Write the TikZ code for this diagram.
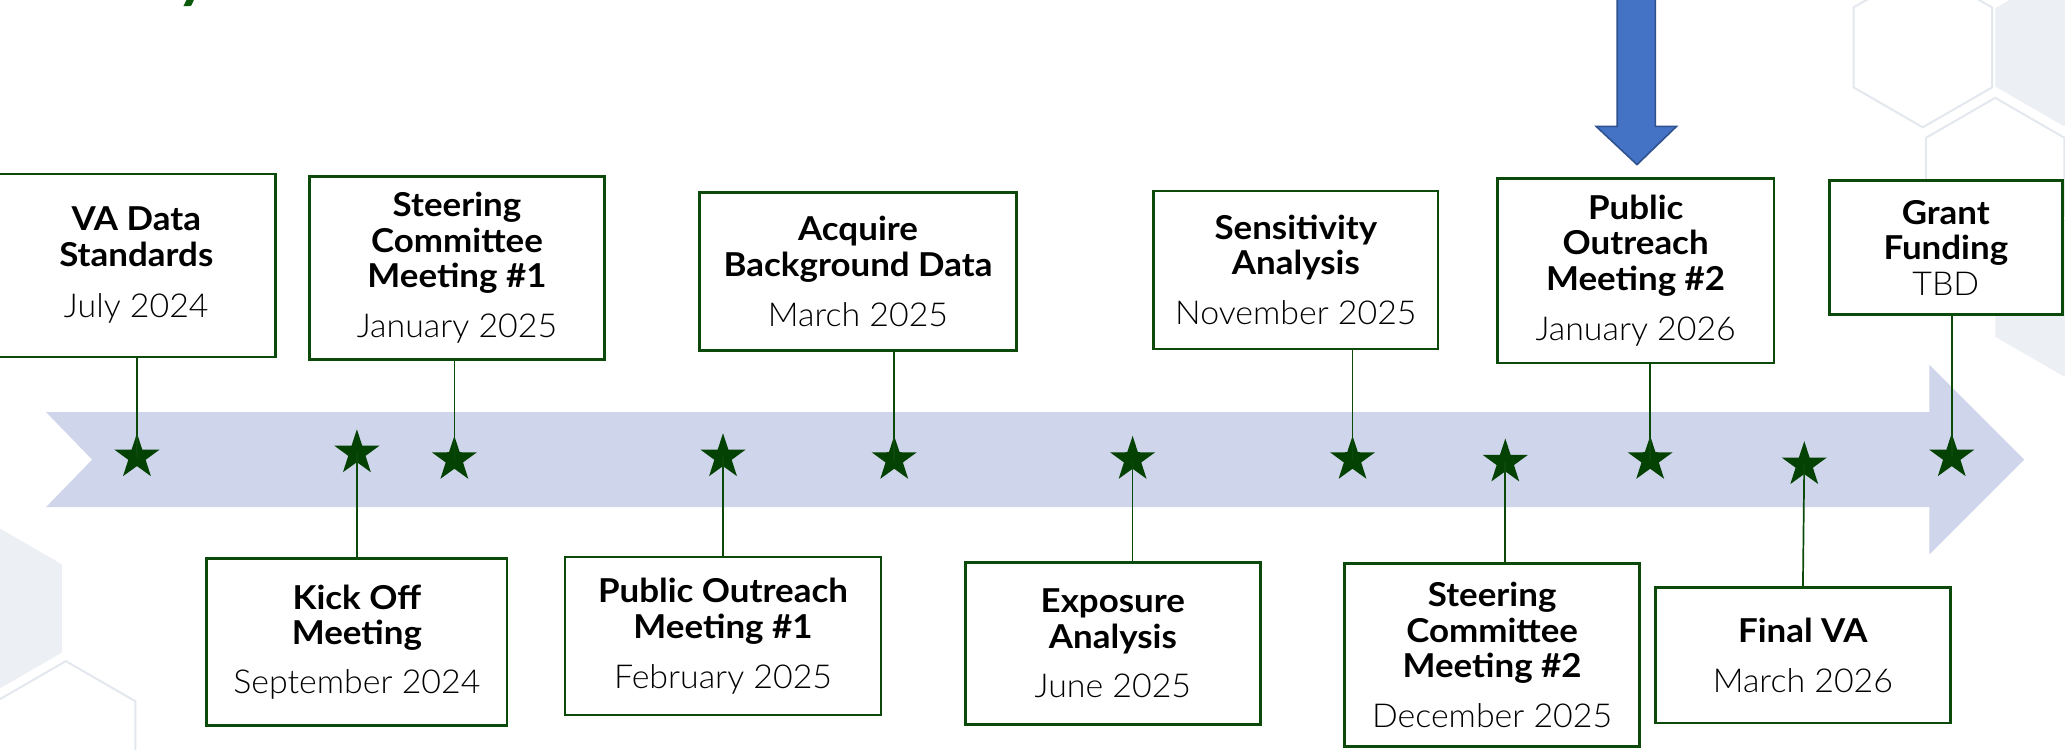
\documentclass[tikz,border=0pt]{standalone}
\usepackage{fontspec}
\setmainfont{Lato}[FakeStretch=1.06]
\newfontfamily\lt{Lato Light}[FakeStretch=1.03]
\usetikzlibrary{shapes.geometric}
\definecolor{tlgreen}{HTML}{0B4A0B}
\definecolor{stargreen}{HTML}{034203}
\definecolor{titlegreen}{HTML}{0A5A0A}
\definecolor{tlband}{HTML}{CFD5EA}
\definecolor{hexgrey}{HTML}{E3E7EE}
\definecolor{hexfillc}{HTML}{ECEFF4}
\definecolor{arrowblue}{HTML}{4472C4}
\definecolor{arrowedge}{HTML}{2F528F}
\newcommand\hexpath[3]{(#1,#2) +(90:#3) -- +(30:#3) -- +(-30:#3) -- +(-90:#3) -- +(-150:#3) -- +(150:#3) -- cycle}
\newcommand\B[1]{\textbf{#1}}
\newcommand\D[1]{{\lt #1}}
\begin{document}
\begin{tikzpicture}[x=1pt,y=-1pt,
  box/.style={draw=tlgreen, line width=2pt, fill=white, align=center, inner sep=0pt,
    font=\fontsize{25}{27}\selectfont},
  starnode/.style={star, star points=5, star point ratio=2.6, fill=stargreen, draw=none,
    minimum size=36pt, inner sep=0pt},
  conn/.style={draw=tlgreen, line width=1.3pt},
  hexline/.style={draw=hexgrey, line width=1.5pt, fill=white},
  hexfill/.style={fill=hexfillc, draw=white, line width=1.5pt}]

\clip (0,0) rectangle (1568,569);
\fill[white] (0,0) rectangle (1568,569);

% background hexagons
\path[hexfill] \hexpath{1567}{36}{60.7};
\path[hexline] \hexpath{1460}{36}{60.7};
\path[hexline] \hexpath{1515}{135}{60.7};
\path[hexfill] \hexpath{1567}{226}{60.7};
\path[hexfill] \hexpath{-11}{462}{68};
\path[hexline] \hexpath{50}{563}{61};

% title fragment
\node[font=\fontsize{46}{46}\selectfont\bfseries, text=titlegreen, anchor=base, inner sep=0pt] (ttl) at (147,-3) {y};

% timeline band
\fill[tlband] (35,313) -- (1465,313) -- (1465,277) -- (1537,349) -- (1465,421) -- (1465,385) -- (35,385) -- (70,349) -- cycle;

% blue arrow
\filldraw[fill=arrowblue, draw=arrowedge, line width=1.2pt]
  (1228,-3) -- (1228,96) -- (1212,96) -- (1243,125) -- (1273,96) -- (1257,96) -- (1257,-3) -- cycle;

% stars
\node[starnode] (s1) at (104,347) {};
\node[starnode] (s2) at (271,344) {};
\node[starnode] (s3) at (345,349) {};
\node[starnode] (s4) at (549,347) {};
\node[starnode] (s5) at (679,349) {};
\node[starnode] (s6) at (860,349) {};
\node[starnode] (s7) at (1027,349) {};
\node[starnode] (s8) at (1143,351) {};
\node[starnode] (s9) at (1253,349) {};
\node[starnode] (s10) at (1370,353) {};
\node[starnode] (s11) at (1482,347) {};

% top boxes
\node[box, minimum width=211pt, minimum height=139pt] (A) at (103.5,201.5)
  {\B{VA Data}\\\B{Standards}\\[12pt]\D{July 2024}};
\node[box, minimum width=224pt, minimum height=139pt] (B) at (347,203.5)
  {\B{Steering}\\\B{Committee}\\\B{Meeting \#1}\\[11pt]\D{January 2025}};
\node[box, minimum width=241pt, minimum height=120pt] (C) at (651.5,206)
  {\B{Acquire}\\\B{Background Data}\\[11pt]\D{March 2025}};
\node[box, minimum width=216pt, minimum height=120pt] (D) at (984,205)
  {\B{Sensitivity}\\\B{Analysis}\\[11pt]\D{November 2025}};
\node[box, minimum width=210pt, minimum height=140pt] (E) at (1242,205.5)
  {\B{Public}\\\B{Outreach}\\\B{Meeting \#2}\\[11pt]\D{January 2026}};
\node[box, minimum width=177pt, minimum height=102pt] (F) at (1477.5,188)
  {\B{Grant}\\\B{Funding}\\\D{TBD}};

% bottom boxes
\node[box, minimum width=228pt, minimum height=127pt] (G) at (271,487.5)
  {\B{Kick Off}\\\B{Meeting}\\[10pt]\D{September 2024}};
\node[box, minimum width=240pt, minimum height=120pt] (H) at (549,483)
  {\B{Public Outreach}\\\B{Meeting \#1}\\[11pt]\D{February 2025}};
\node[box, minimum width=224pt, minimum height=123pt] (I) at (845,488.5)
  {\B{Exposure}\\\B{Analysis}\\[10pt]\D{June 2025}};
\node[box, minimum width=224pt, minimum height=139pt] (J) at (1133,497.5)
  {\B{Steering}\\\B{Committee}\\\B{Meeting \#2}\\[11pt]\D{December 2025}};
\node[box, minimum width=224pt, minimum height=103pt] (K) at (1369,497.5)
  {\B{Final VA}\\[11pt]\D{March 2026}};

% connectors
\draw[conn] (s1 |- A.south) -- (s1.center);
\draw[conn] (s3 |- B.south) -- (s3.center);
\draw[conn] (s5 |- C.south) -- (s5.center);
\draw[conn] (s7 |- D.south) -- (s7.center);
\draw[conn] (s9 |- E.south) -- (s9.center);
\draw[conn] (s11 |- F.south) -- (s11.center);
\draw[conn] (s2 |- G.north) -- (s2.center);
\draw[conn] (s4 |- H.north) -- (s4.center);
\draw[conn] (s6 |- I.north) -- (s6.center);
\draw[conn] (s8 |- J.north) -- (s8.center);
\draw[conn] (K.north) -- (s10.center);
\end{tikzpicture}
\end{document}
